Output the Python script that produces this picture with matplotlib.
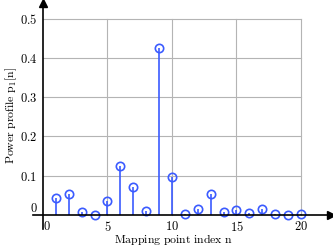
import numpy as np
import matplotlib
matplotlib.use("Agg")
import matplotlib.pyplot as plt

plt.rcParams['mathtext.fontset'] = 'cm'
plt.rcParams['font.family'] = 'serif'
plt.rcParams['font.size'] = 8

# power profile
n = np.arange(1, 21)
p = [0.042, 0.053, 0.008, 0.001, 0.036, 0.125, 0.070, 0.010, 0.426, 0.097,
     0.002, 0.014, 0.052, 0.007, 0.013, 0.004, 0.014, 0.003, 0.001, 0.003]

xticks = [0, 5, 10, 15, 20]
yticks = [0, 0.1, 0.2, 0.3, 0.4, 0.5]
xtick_labels = ["0", "5", "10", "15", "20"]
ytick_labels = ["0", "0.1", "0.2", "0.3", "0.4", "0.5"]

blue = '#3b5bff'

fig = plt.figure(figsize=(3.33, 2.46), dpi=100)
ax = fig.add_axes([0.098, 0.069, 0.895, 0.919])
ax.set_xlim(-0.8, 22.3)
ax.set_ylim(-0.036, 0.54)

# grid only inside [0,20] x [0,0.5]
for x in xticks[1:]:
    ax.plot([x, x], [0, 0.5], color='#b4b4b4', lw=0.8, zorder=0)
for y in yticks[1:]:
    ax.plot([0, 20], [y, y], color='#b4b4b4', lw=0.8, zorder=0)

ml, sl, bl = ax.stem(n, p, basefmt=' ')
plt.setp(sl, color=blue, linewidth=1.2)
plt.setp(ml, color=blue, marker='o', markersize=6, markerfacecolor='none',
         markeredgewidth=1.2)

for side in ['top', 'right']:
    ax.spines[side].set_visible(False)
ax.spines['left'].set_position(('data', 0))
ax.spines['bottom'].set_position(('data', 0))
ax.spines['left'].set_linewidth(1.2)
ax.spines['bottom'].set_linewidth(1.2)

# arrow heads
ax.plot(1, 0, '>k', markersize=6, transform=ax.get_yaxis_transform(), clip_on=False)
ax.plot(0, 1, '^k', markersize=6, transform=ax.get_xaxis_transform(), clip_on=False)

ax.set_xticks(xticks)
ax.set_xticklabels(['$%s$' % s for s in xtick_labels])
ax.set_yticks(yticks)
ax.set_yticklabels(['$%s$' % s for s in ytick_labels])
ax.tick_params(length=0, pad=4, labelsize=9)
ax.get_xticklabels()[0].set_ha('left')
ax.get_yticklabels()[0].set_va('bottom')

ax.set_xlabel(r'$\mathrm{Mapping\ point\ index\ n}$', fontsize=8.5)
ax.set_ylabel(r'$\mathrm{Power\ profile\ p_1[n]}$', fontsize=8.5)
ax.xaxis.set_label_coords(0.472, -0.015)
ax.yaxis.set_label_coords(-0.045, 0.505)

fig.savefig('out.png', dpi=100)
